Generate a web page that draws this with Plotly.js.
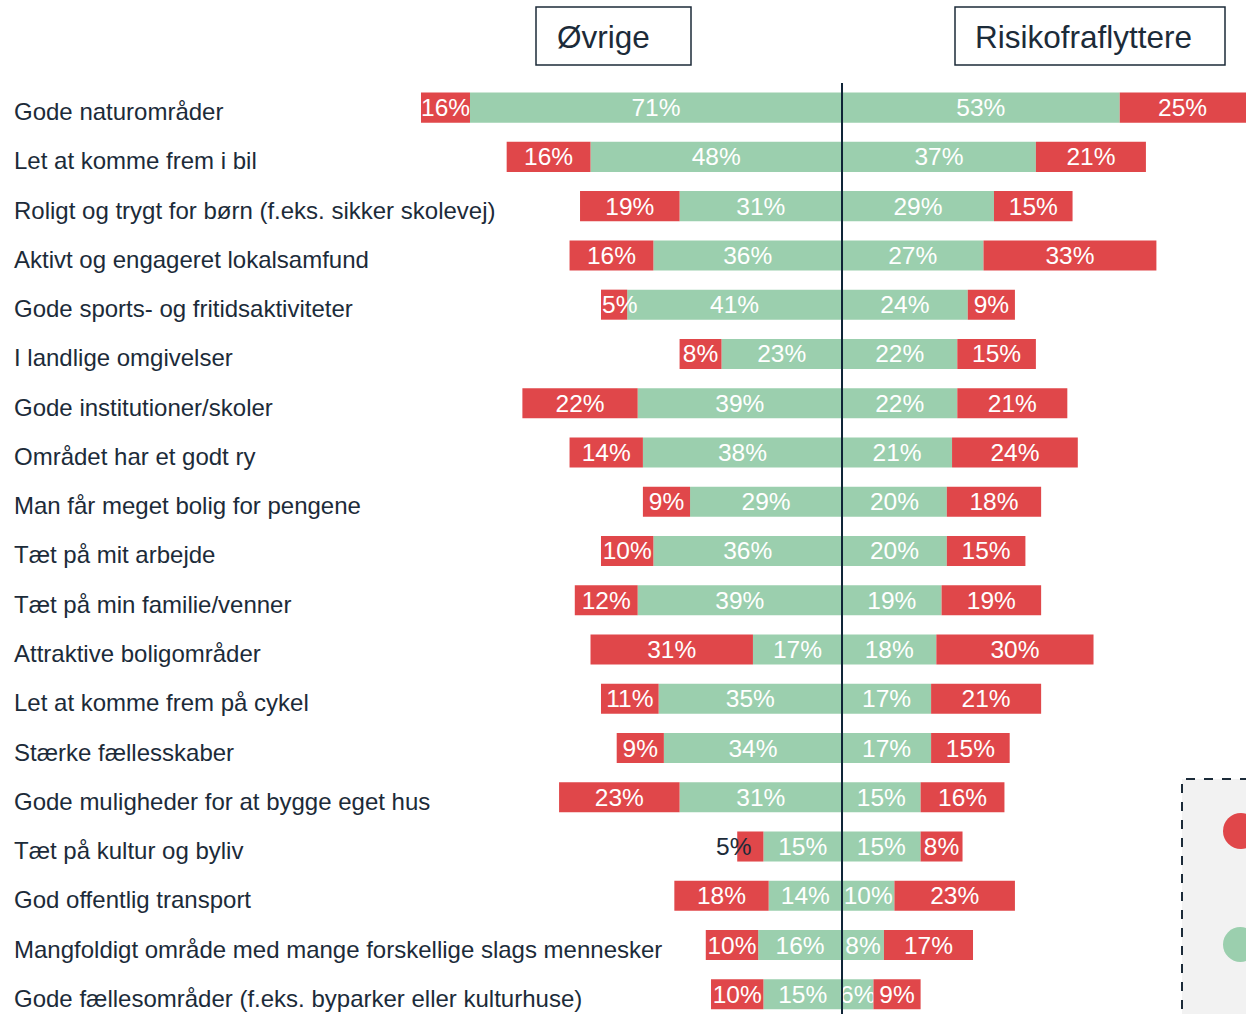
<!DOCTYPE html>
<html>
<head>
<meta charset="utf-8">
<script src="https://cdn.plot.ly/plotly-3.0.1.min.js"></script>
<style>html,body{margin:0;padding:0;background:#fff;}#chart{width:1246px;height:1014px;}</style>
</head>
<body>
<div id="chart"></div>
<script>
// ---- data ----
const categories = [
  "Gode naturområder",
  "Let at komme frem i bil",
  "Roligt og trygt for børn (f.eks. sikker skolevej)",
  "Aktivt og engageret lokalsamfund",
  "Gode sports- og fritidsaktiviteter",
  "I landlige omgivelser",
  "Gode institutioner/skoler",
  "Området har et godt ry",
  "Man får meget bolig for pengene",
  "Tæt på mit arbejde",
  "Tæt på min familie/venner",
  "Attraktive boligområder",
  "Let at komme frem på cykel",
  "Stærke fællesskaber",
  "Gode muligheder for at bygge eget hus",
  "Tæt på kultur og byliv",
  "God offentlig transport",
  "Mangfoldigt område med mange forskellige slags mennesker",
  "Gode fællesområder (f.eks. byparker eller kulturhuse)"
];
const ovrigeGreen = [71, 48, 31, 36, 41, 23, 39, 38, 29, 36, 39, 17, 35, 34, 31, 15, 14, 16, 15];
const ovrigeRed   = [16, 16, 19, 16, 5, 8, 22, 14, 9, 10, 12, 31, 11, 9, 23, 5, 18, 10, 10];
const risikoGreen = [53, 37, 29, 27, 24, 22, 22, 21, 20, 20, 19, 18, 17, 17, 15, 15, 10, 8, 6];
const risikoRed   = [25, 21, 15, 33, 9, 15, 21, 24, 18, 15, 19, 30, 21, 15, 16, 8, 23, 17, 9];
const groupTitles = ["Øvrige", "Risikofraflyttere"];
const outsideLabelCategory = "Tæt på kultur og byliv"; // its small red label sits outside, in dark text

// ---- style ----
const RED = "#E0474A", GREEN = "#9BCFAE", DARK = "#1C2B39", LINE = "#0F2437";
const FONT = "Liberation Sans, Arial, sans-serif";
const BAR_FONT = 24.5;
const W = 1246, H = 1014, ML = 421, MR = 0, MT = 83, MB = 0;
const PW = W - ML - MR, PH = H - MT - MB;
const XRANGE = [-80.35, 77.1];
const px2x = p => (p - ML) / PW;
const px2y = p => (H - MB - p) / PH;

const annotations = [];

// builds a bar trace; labels of bars cut by the plot edge are centred on their visible part
function barTrace(vals, inner, sign, color, name) {
  const textpos = vals.map(() => "inside");
  vals.forEach((v, i) => {
    const start = sign * (inner ? inner[i] : 0);
    const end = start + sign * v;
    const limit = sign < 0 ? XRANGE[0] : XRANGE[1];
    if ((sign < 0 && end < limit) || (sign > 0 && end > limit)) {
      textpos[i] = "none";
      annotations.push({
        xref: "x", yref: "y", x: (start + limit) / 2, y: categories[i],
        xanchor: "center", yanchor: "middle", text: v + "%", showarrow: false,
        font: { family: FONT, size: BAR_FONT, color: "#FFFFFF" }
      });
    } else if (inner && sign < 0 && categories[i] === outsideLabelCategory) {
      textpos[i] = "none";
      annotations.push({
        xref: "x", yref: "y", x: (start + end) / 2, y: categories[i],
        xanchor: "right", yanchor: "middle", text: v + "%", showarrow: false, xshift: 3,
        font: { family: FONT, size: BAR_FONT, color: DARK }
      });
    } else if (inner && sign < 0 && v <= 5) {
      // label wider than its bar: starts at the bar's outer end and runs over the green part
      textpos[i] = "none";
      annotations.push({
        xref: "x", yref: "y", x: end, y: categories[i],
        xanchor: "left", yanchor: "middle", text: v + "%", showarrow: false, xshift: -1,
        font: { family: FONT, size: BAR_FONT, color: "#FFFFFF" }
      });
    }
  });
  return {
    type: "bar", orientation: "h", name: name,
    y: categories,
    x: vals.map(v => sign * v),
    text: vals.map(v => v + "%"),
    textposition: textpos,
    insidetextanchor: "middle",
    constraintext: "none",
    textangle: 0,
    textfont: { family: FONT, size: BAR_FONT, color: "#FFFFFF" },
    marker: { color: color, line: { width: 0 } },
    hoverinfo: "skip",
    cliponaxis: true
  };
}

const traces = [
  barTrace(ovrigeGreen, null, -1, GREEN, "Øvrige grøn"),
  barTrace(ovrigeRed, ovrigeGreen, -1, RED, "Øvrige rød"),
  barTrace(risikoGreen, null, 1, GREEN, "Risikofraflyttere grøn"),
  barTrace(risikoRed, risikoGreen, 1, RED, "Risikofraflyttere rød")
];

categories.forEach(c => annotations.push({
  xref: "paper", yref: "y", x: px2x(12), y: c, xanchor: "left", yanchor: "middle",
  text: c, showarrow: false, yshift: -4,
  font: { family: FONT, size: 24, color: DARK }
}));
annotations.push({
  xref: "paper", yref: "paper", x: px2x(555), y: px2y(37), xanchor: "left", yanchor: "middle",
  text: groupTitles[0], showarrow: false, font: { family: FONT, size: 31.5, color: DARK }
});
annotations.push({
  xref: "paper", yref: "paper", x: px2x(973), y: px2y(37), xanchor: "left", yanchor: "middle",
  text: groupTitles[1], showarrow: false, font: { family: FONT, size: 31.5, color: DARK }
});

const shapes = [
  // title boxes
  { type: "rect", xref: "paper", yref: "paper", x0: px2x(536), x1: px2x(691), y0: px2y(65), y1: px2y(7),
    line: { color: DARK, width: 1.5 }, fillcolor: "rgba(0,0,0,0)" },
  { type: "rect", xref: "paper", yref: "paper", x0: px2x(955), x1: px2x(1225), y0: px2y(65), y1: px2y(7),
    line: { color: DARK, width: 1.5 }, fillcolor: "rgba(0,0,0,0)" },
  // legend box (partially visible)
  { type: "rect", xref: "paper", yref: "paper", x0: px2x(1182), x1: px2x(1300), y0: px2y(1060), y1: px2y(779),
    line: { color: DARK, width: 2, dash: "dash" }, fillcolor: "#F2F2F2", layer: "below" },
  { type: "circle", xref: "paper", yref: "paper", x0: px2x(1223), x1: px2x(1259), y0: px2y(849), y1: px2y(813),
    line: { width: 0 }, fillcolor: RED },
  { type: "circle", xref: "paper", yref: "paper", x0: px2x(1223), x1: px2x(1258), y0: px2y(962), y1: px2y(927),
    line: { width: 0 }, fillcolor: GREEN },
  // center line
  { type: "line", xref: "x", yref: "paper", x0: 0, x1: 0, y0: 0, y1: 1,
    line: { color: LINE, width: 2 }, layer: "above" }
];

const layout = {
  width: W, height: H,
  margin: { l: ML, r: MR, t: MT, b: MB, pad: 0 },
  paper_bgcolor: "#FFFFFF", plot_bgcolor: "rgba(0,0,0,0)",
  barmode: "relative", bargap: 0.39,
  showlegend: false,
  xaxis: { range: XRANGE, showgrid: false, zeroline: false, showticklabels: false, showline: false, fixedrange: true },
  yaxis: { type: "category", categoryorder: "array", categoryarray: categories, range: [18.4, -0.5],
           showgrid: false, zeroline: false, showticklabels: false, showline: false, fixedrange: true },
  annotations: annotations,
  shapes: shapes,
  font: { family: FONT, color: DARK }
};

Plotly.newPlot("chart", traces, layout, { displayModeBar: false, staticPlot: true });
</script>
</body>
</html>
